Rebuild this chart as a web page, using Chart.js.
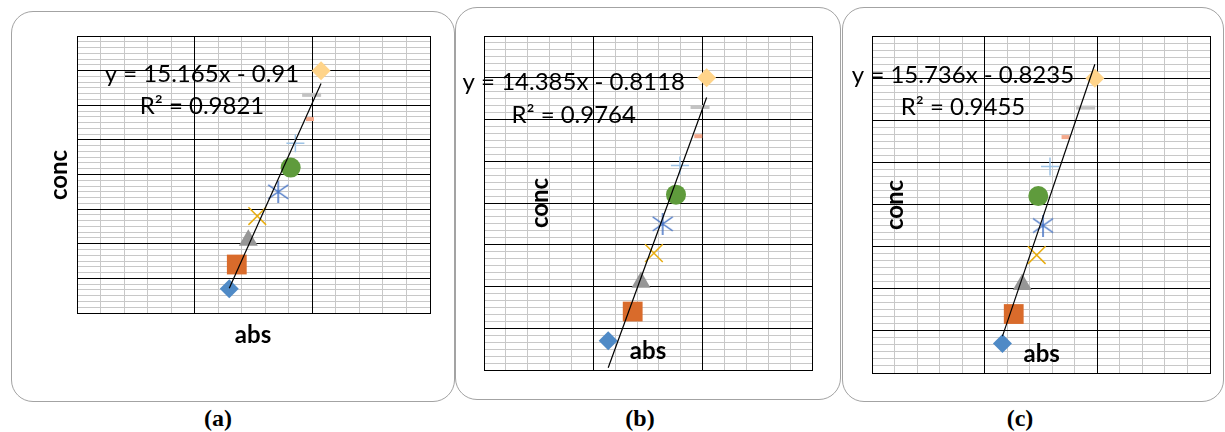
<!DOCTYPE html>
<html>
<head>
<meta charset="utf-8">
<script src="https://cdn.jsdelivr.net/npm/chart.js@4.4.1/dist/chart.umd.min.js"></script>
<style>
  html, body { margin: 0; padding: 0; background: #fff; }
  body { width: 1225px; height: 432px; position: relative; overflow: hidden; }
  .panel { position: absolute; box-sizing: border-box; border: 1.5px solid #a3a3a3; border-radius: 22px; }
  .cv { position: absolute; }
  .cap { position: absolute; width: 80px; top: 405px; line-height: 30px; text-align: center;
         font: bold 24px "Liberation Serif", "Times New Roman", serif; color: #000; }
</style>
</head>
<body>
  <div class="panel" style="left:11px;top:11px;width:444px;height:391px"></div>
  <div class="panel" style="left:455px;top:7px;width:386px;height:393px"></div>
  <div class="panel" style="left:842px;top:7px;width:382px;height:395px"></div>
  <canvas id="chart-a" class="cv" width="444" height="391" style="left:11px;top:11px"></canvas>
  <canvas id="chart-b" class="cv" width="386" height="393" style="left:455px;top:7px"></canvas>
  <canvas id="chart-c" class="cv" width="382" height="395" style="left:842px;top:7px"></canvas>
  <div class="cap" id="cap-a" style="left:178px"></div>
  <div class="cap" id="cap-b" style="left:600px"></div>
  <div class="cap" id="cap-c" style="left:980px"></div>

<script>
(function () {
  "use strict";

  // ────────────────────────────────────────────────────────────
  // Datos
  // ────────────────────────────────────────────────────────────
  const conc = [0.07, 0.14, 0.21, 0.28, 0.35, 0.42, 0.49, 0.56, 0.63, 0.70];
  const absA = [0.0647, 0.0679, 0.0728, 0.0766, 0.0855, 0.0908, 0.0928, 0.0990, 0.0997, 0.1037];
  const absB = [0.0568, 0.0680, 0.0718, 0.0777, 0.0817, 0.0878, 0.0896, 0.0980, 0.0988, 0.1018];
  const absC = [0.0579, 0.0629, 0.0667, 0.0731, 0.0759, 0.0738, 0.0790, 0.0859, 0.0948, 0.0989];

  // y = m·x + b y R² de cada línea de tendencia
  const slopes = [15.165, 14.385, 15.736];
  const intercepts = [-0.91, -0.8118, -0.8235];
  const r2 = [0.9821, 0.9764, 0.9455];
  const captions = ["(a)", "(b)", "(c)"];

  // Ejes (sin etiquetas en la figura)
  const xRange = [0, 0.15];
  const yRange = [0, 0.8];
  const xSteps = [0.05, 0.01];      // mayor, menor
  const ySteps = [0.1, 0.1 / 6];

  // ────────────────────────────────────────────────────────────
  // Marcadores (serie por defecto de Excel)
  // ────────────────────────────────────────────────────────────
  function makeAsterisk(color) {
    const c = document.createElement("canvas");
    c.width = 22; c.height = 22;
    const g = c.getContext("2d");
    g.strokeStyle = color;
    g.lineWidth = 1.5;
    g.beginPath();
    g.moveTo(11, 0); g.lineTo(11, 22);
    g.moveTo(1, 4); g.lineTo(21, 18);
    g.moveTo(1, 18); g.lineTo(21, 4);
    g.stroke();
    return c;
  }

  const MARKERS = [
    { style: "rectRot", color: "#4f8ac6", r: 9.5, w: 0 },
    { style: "rect", color: "#d96b2b", r: 14, w: 0 },
    { style: "triangle", color: "#969696", r: 11, w: 0 },
    { style: "crossRot", color: "#e8ad10", r: 12.5, w: 1.5 },
    { style: makeAsterisk("#4472c4"), color: "#4472c4", r: 10, w: 0 },
    { style: "circle", color: "#5f9b3c", r: 10, w: 0 },
    { style: "cross", color: "#9dc3e6", r: 9, w: 1.5 },
    { style: "line", color: "#f4a98c", r: 4, w: 4 },
    { style: "line", color: "#c3c3c3", r: 9.5, w: 4 },
    { style: "rectRot", color: "#ffd48a", r: 9.5, w: 0 },
  ];

  const EQ_FONT = '24px Lato, "Open Sans", sans-serif';
  const TITLE_FONT = 'bold 24px Lato, "Open Sans", sans-serif';

  // Textos (ecuación, R², títulos de ejes) en coordenadas del canvas
  const textos = {
    id: "textos",
    afterDraw(chart, args, o) {
      const ctx = chart.ctx;
      ctx.save();
      ctx.fillStyle = "#000";
      ctx.textAlign = "center";
      ctx.textBaseline = "alphabetic";
      ctx.font = EQ_FONT;
      ctx.fillText(o.eq, o.eqX, o.eqY);
      ctx.fillText(o.r2, o.eqX, o.r2Y);
      ctx.font = TITLE_FONT;
      ctx.fillText("abs", o.absX, o.absY);
      ctx.translate(o.concX, o.concY);
      ctx.rotate(-Math.PI / 2);
      ctx.fillText("conc", 0, 0);
      ctx.restore();
    }
  };

  function gridScale(axis, pos, step, color, z, border) {
    return {
      type: "linear",
      axis: axis,
      position: pos,
      min: axis === "x" ? xRange[0] : yRange[0],
      max: axis === "x" ? xRange[1] : yRange[1],
      z: z,
      ticks: { display: false, stepSize: step },
      grid: { color: color, lineWidth: 1, drawTicks: false },
      border: { display: border, color: "#000", width: 1 },
    };
  }

  function buildChart(id, absVals, k, layout) {
    const m = slopes[k], b = intercepts[k];
    const x0 = Math.min.apply(null, absVals);
    const x1 = Math.max.apply(null, absVals);

    const datasets = [{
      data: [{ x: x0, y: m * x0 + b }, { x: x1, y: m * x1 + b }],
      showLine: true,
      borderColor: "#000",
      borderWidth: 1.2,
      pointRadius: 0,
      fill: false,
    }];

    absVals.forEach(function (x, i) {
      const mk = MARKERS[i];
      datasets.push({
        data: [{ x: x, y: conc[i] }],
        pointStyle: mk.style,
        pointRadius: mk.r,
        backgroundColor: mk.color,
        borderColor: mk.color,
        borderWidth: mk.w,
      });
    });

    const sign = b < 0 ? " - " : " + ";
    new Chart(document.getElementById(id), {
      type: "scatter",
      data: { datasets: datasets },
      options: {
        responsive: false,
        animation: false,
        events: [],
        layout: { padding: layout.pad },
        plugins: {
          legend: { display: false },
          tooltip: { enabled: false },
          textos: {
            eq: "y = " + m + "x" + sign + Math.abs(b),
            r2: "R² = " + r2[k],
            eqX: layout.eqX, eqY: layout.eqY, r2Y: layout.r2Y,
            absX: layout.absX, absY: layout.absY,
            concX: layout.concX, concY: layout.concY,
          },
        },
        scales: {
          xMinor: gridScale("x", "bottom", xSteps[1], "#c8c8c8", -1, false),
          yMinor: gridScale("y", "left", ySteps[1], "#c8c8c8", -1, false),
          x: gridScale("x", "bottom", xSteps[0], "#000", 0, true),
          y: gridScale("y", "left", ySteps[0], "#000", 0, true),
        },
      },
      plugins: [textos],
    });
    document.getElementById("cap-" + id.slice(-1)).textContent = captions[k];
  }

  buildChart("chart-a", absA, 0, {
    pad: { left: 66, top: 25, right: 25, bottom: 89 },
    eqX: 191, eqY: 71, r2Y: 102.5,
    absX: 242, absY: 332, concX: 55.7, concY: 164,
  });
  buildChart("chart-b", absB, 1, {
    pad: { left: 29, top: 29, right: 29, bottom: 30 },
    eqX: 118.7, eqY: 83, r2Y: 116.3,
    absX: 193, absY: 352.3, concX: 93.3, concY: 196,
  });
  buildChart("chart-c", absC, 2, {
    pad: { left: 30, top: 29, right: 12, bottom: 29 },
    eqX: 121, eqY: 76, r2Y: 108,
    absX: 199.7, absY: 354.7, concX: 60.7, concY: 198,
  });
})();
</script>
</body>
</html>
